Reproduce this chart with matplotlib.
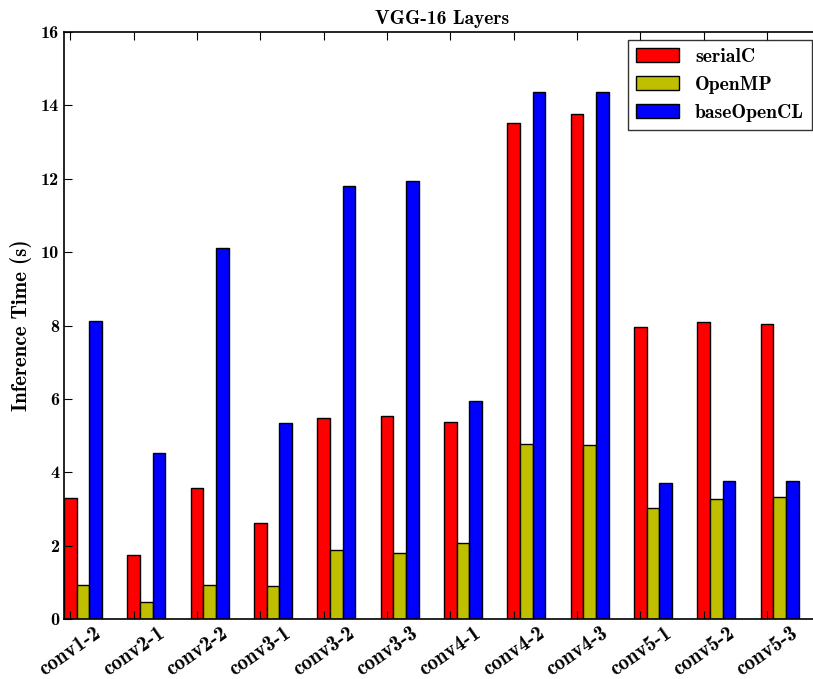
import numpy as np
import matplotlib
matplotlib.use('Agg')
import matplotlib.pyplot as plt

plt.rcParams['font.family'] = ['cmb10', 'DejaVu Serif']
plt.rcParams['axes.unicode_minus'] = False

# 레이어별 추론 시간 (s)
layers = ['conv1-2', 'conv2-1', 'conv2-2', 'conv3-1', 'conv3-2', 'conv3-3',
          'conv4-1', 'conv4-2', 'conv4-3', 'conv5-1', 'conv5-2', 'conv5-3']
serialC = [3.30, 1.75, 3.57, 2.63, 5.47, 5.53, 5.37, 13.53, 13.77, 7.97, 8.10, 8.03]
openMP = [0.93, 0.47, 0.93, 0.90, 1.87, 1.80, 2.07, 4.77, 4.73, 3.03, 3.27, 3.33]
baseOpenCL = [8.13, 4.53, 10.12, 5.33, 11.80, 11.93, 5.93, 14.37, 14.37, 3.70, 3.77, 3.77]

ind = np.arange(len(layers))
width = 0.2

fig = plt.figure(figsize=(8.13, 6.79), dpi=100)
ax = fig.add_axes([64 / 813, 1 - 619 / 679, 757 / 813, 587 / 679])

ax.bar(ind, serialC, width, color='r', edgecolor='k', linewidth=1, label='serialC')
ax.bar(ind + width, openMP, width, color='#bfbf00', edgecolor='k', linewidth=1, label='OpenMP')
ax.bar(ind + 2 * width, baseOpenCL, width, color='b', edgecolor='k', linewidth=1, label='baseOpenCL')

ax.set_xlim(-0.1, 11.85)
ax.set_ylim(0, 16)
ax.set_yticks(np.arange(0, 17, 2))
ax.set_xticks(ind)
ax.set_xticklabels(layers, rotation=35, ha='center')
ax.tick_params(direction='in', length=6, top=True, right=True, labelsize=13)
ax.tick_params(axis='x', labelsize=15, pad=3)
for s in ax.spines.values():
    s.set_linewidth(1.2)

ax.set_title('VGG-16 Layers', fontsize=14)
ax.set_ylabel('Inference Time (s)', fontsize=15)
ax.yaxis.set_label_coords(-0.042, 0.5)

leg = ax.legend(loc='upper right', bbox_to_anchor=(812 / 813, 1 - 40 / 679),
                bbox_transform=fig.transFigure, fancybox=False, edgecolor='k',
                fontsize=14.2, borderaxespad=0, handlelength=2.2)
leg.get_frame().set_linewidth(1)

fig.savefig('out.png', dpi=100, facecolor='white')
